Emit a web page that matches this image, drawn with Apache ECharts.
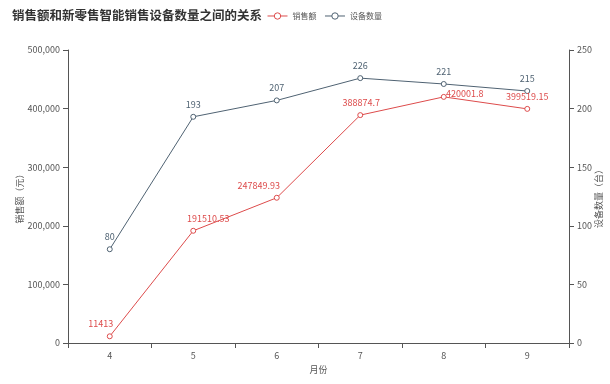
<!DOCTYPE html>
<html><head><meta charset="utf-8">
<script src="https://cdn.jsdelivr.net/npm/echarts@6/dist/echarts.min.js"></script>
<style>html,body{margin:0;padding:0;background:#fff}#c{width:610px;height:384px}</style>
</head><body><div id="c"></div>
<script>
const months = ['4','5','6','7','8','9'];
const sales = [11413, 191510.53, 247849.93, 388874.7, 420001.8, 399519.15];
const devices = [80, 193, 207, 226, 221, 215];
const salesTicks = [0,100000,200000,300000,400000,500000];
const deviceTicks = [0,50,100,150,200,250];

const red = '#dd4b4b', blue = '#4f6272';
const salesLabelOffsets = [[-9,0],[15,0],[-18,0],[1,0],[21,9],[0,0]];
const chart = echarts.init(document.getElementById('c'));
const font = '"Microsoft YaHei","Noto Sans CJK SC",sans-serif';
chart.setOption({
  animation:false,
  textStyle:{fontFamily:font},
  title:{text:'销售额和新零售智能销售设备数量之间的关系',left:7,top:4,textStyle:{fontSize:12.5,fontWeight:'bold',color:'#333',fontFamily:font}},
  legend:{left:262,top:7,itemWidth:20,itemHeight:8,itemGap:8,textStyle:{fontSize:8,color:'#555'},
    itemStyle:{borderWidth:1},lineStyle:{width:1},data:['销售额','设备数量']},
  grid:{left:68,right:41,top:50,bottom:41,containLabel:false,outerBoundsMode:'none'},
  xAxis:{type:'category',data:months,name:'月份',nameLocation:'middle',nameGap:22,nameMoveOverlap:false,nameTextStyle:{fontSize:9,color:'#555'},
    axisLine:{lineStyle:{color:'#555'}},axisLabel:{fontSize:9,color:'#555'},axisTick:{show:true}},
  yAxis:[
    {type:'value',min:0,max:500000,interval:100000,name:'销售额（元）',nameLocation:'middle',nameGap:44,nameRotate:90,nameMoveOverlap:false,
     nameTextStyle:{fontSize:9,color:'#555'},axisLine:{show:true,lineStyle:{color:'#555'}},axisTick:{show:true},
     splitLine:{show:false},axisLabel:{fontSize:9,color:'#555',formatter:v=>v.toLocaleString('en-US')}},
    {type:'value',min:0,max:250,interval:50,name:'设备数量（台）',nameLocation:'middle',nameGap:25,nameRotate:90,nameMoveOverlap:false,
     nameTextStyle:{fontSize:9,color:'#555'},axisLine:{show:true,lineStyle:{color:'#555'}},axisTick:{show:true},
     splitLine:{show:false},axisLabel:{fontSize:9,color:'#555'}}
  ],
  series:[
    {name:'销售额',type:'line',yAxisIndex:0,color:red,symbol:'circle',symbolSize:5,itemStyle:{color:'#fff',borderColor:red,borderWidth:1},lineStyle:{width:1,color:red},
     data:sales.map((v,i)=>({value:v,label:{offset:salesLabelOffsets[i]}})),
     label:{show:true,position:'top',fontSize:9,color:red}},
    {name:'设备数量',type:'line',yAxisIndex:1,color:blue,symbol:'circle',symbolSize:5,itemStyle:{color:'#fff',borderColor:blue,borderWidth:1},lineStyle:{width:1,color:blue},
     data:devices,label:{show:true,position:'top',fontSize:9,color:blue}}
  ]
});
</script></body></html>
